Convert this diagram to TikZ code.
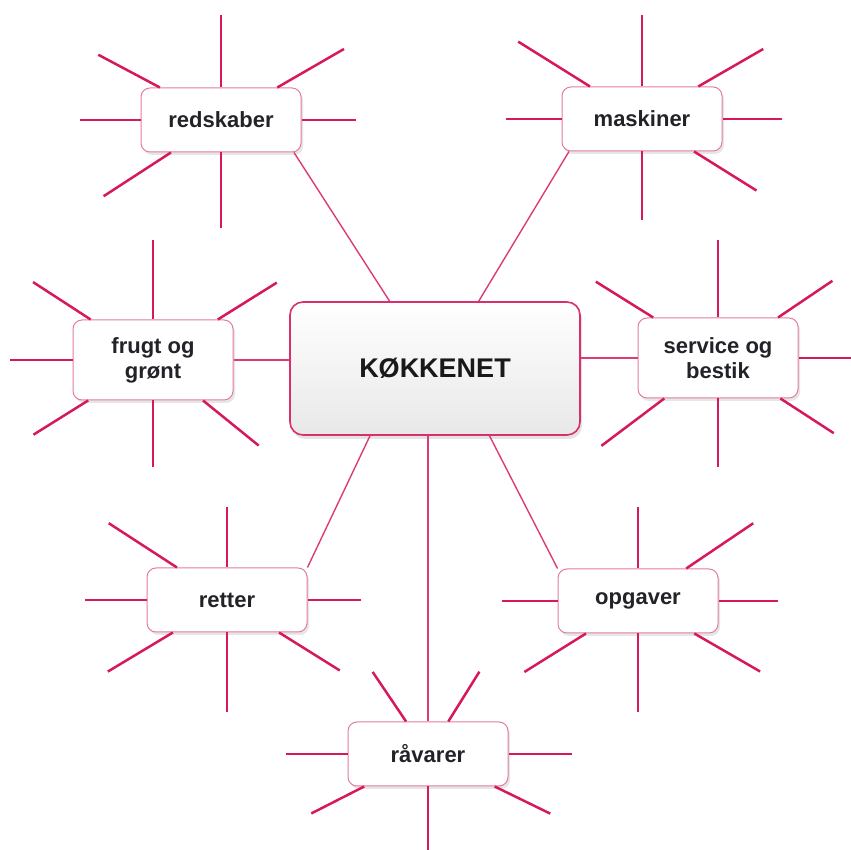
\documentclass[tikz,border=0pt]{standalone}
\usepackage{fontspec}
\setmainfont{Liberation Sans}
\usetikzlibrary{shadows}

\definecolor{rayred}{RGB}{214,24,94}
\definecolor{boxpink}{RGB}{228,125,155}
\definecolor{inkgray}{RGB}{34,34,40}

\begin{document}
\begin{tikzpicture}[
        x=1pt, y=1pt,
        % rays and links
        ray/.style={draw=rayred, line width=2.5pt},
        link/.style={draw=rayred!85, line width=1.4pt},
        % boxes
        topic/.style={draw=boxpink, line width=1pt, fill=white, rounded corners=9pt,
            minimum width=160pt, minimum height=64pt, inner sep=0pt, align=center,
            text=inkgray, font=\bfseries\fontsize{22}{25}\selectfont,
            drop shadow={shadow xshift=2pt, shadow yshift=-3pt, opacity=0.2}},
        hub/.style={draw=rayred!90, line width=1.6pt, top color=white, bottom color=black!9,
            rounded corners=13pt, minimum width=290pt, minimum height=133pt, inner sep=0pt,
            text=black!90, font=\bfseries\fontsize{27}{30}\selectfont,
            drop shadow={shadow xshift=2pt, shadow yshift=-4pt, opacity=0.22}}
    ]

    \useasboundingbox (0,0) rectangle (851,850);

    % ==========================================
    % 1. nodes
    % ==========================================
    \node[hub] (kokken) at (435,481.5) {KØKKENET};

    \node[topic] (redskaber) at (221,730) {redskaber};
    \node[topic] (maskiner) at (642,731) {maskiner};
    \node[topic, minimum height=80pt] (frugt) at (153,490) {frugt og\\grønt};
    \node[topic, minimum height=80pt] (service) at (718,492) {service og\\bestik};
    \node[topic] (retter) at (227,250) {retter};
    \node[topic] (opgaver) at (638,249) {opgaver};
    \node[topic] (raavarer) at (428,96) {råvarer};

    % ==========================================
    % 2. links to the hub
    % ==========================================
    \draw[link] (redskaber.336) -- (kokken.124);
    \draw[link] (maskiner.204) -- (kokken.57);
    \draw[link] (frugt.east) -- (frugt.east -| kokken.west);
    \draw[link] (service.west) -- (service.west -| kokken.east);
    \draw[link] (retter.22) -- (kokken.226);
    \draw[link] (opgaver.158) -- (kokken.309);
    \draw[link] (raavarer.north) -- (raavarer.north |- kokken.south);

    % ==========================================
    % 3. rays (angle / length from centre)
    % ==========================================
    \foreach \a/\r in {90/105, 270/108, 180/141, 0/135, 152/139, 30/142, 213/140}
        \draw[ray] (redskaber.center) ++(\a:\r) -- (redskaber.\a);
    \foreach \a/\r in {90/104, 270/101, 180/136, 0/140, 148/146, 30/140, 328/135}
        \draw[ray] (maskiner.center) ++(\a:\r) -- (maskiner.\a);
    \foreach \a/\r in {90/120, 270/107, 180/143, 147/143, 32/146, 212/141, 321/136}
        \draw[ray] (frugt.center) ++(\a:\r) -- (frugt.\a);
    \foreach \a/\r in {90/118, 270/109, 0/133, 148/144, 34/138, 217/146, 327/138}
        \draw[ray] (service.center) ++(\a:\r) -- (service.\a);
    \foreach \a/\r in {90/93, 270/112, 180/142, 0/134, 147/141, 211/139, 328/133}
        \draw[ray] (retter.center) ++(\a:\r) -- (retter.\a);
    \foreach \a/\r in {90/94, 270/111, 180/136, 0/140, 34/139, 212/134, 330/141}
        \draw[ray] (opgaver.center) ++(\a:\r) -- (opgaver.\a);
    \foreach \a/\r in {270/96, 180/142, 0/144, 124/99, 58/97, 207/131, 334/136}
        \draw[ray] (raavarer.center) ++(\a:\r) -- (raavarer.\a);

\end{tikzpicture}
\end{document}
